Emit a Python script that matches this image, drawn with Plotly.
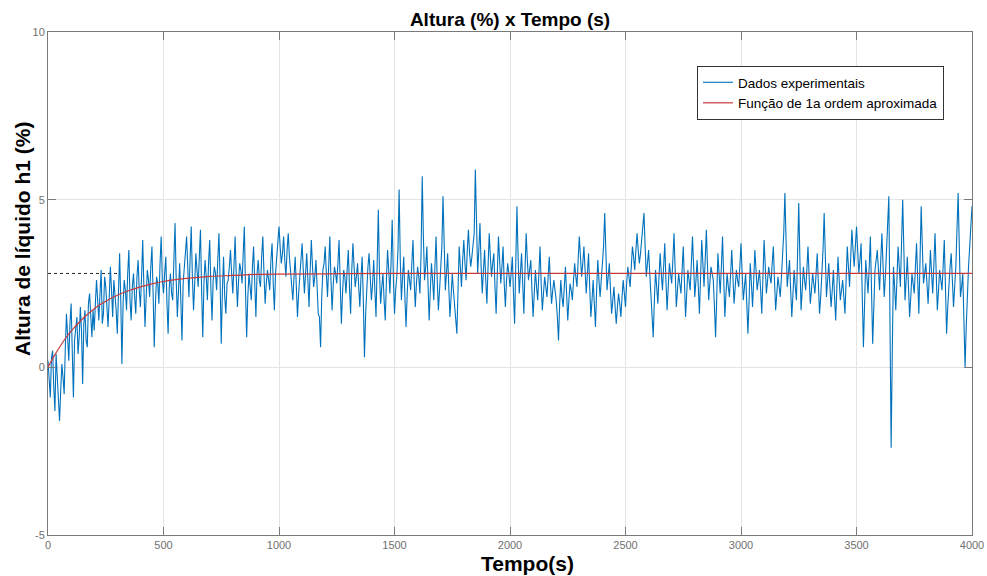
import plotly.graph_objects as go

t_step = 10
h_exp_main = [
    0.2, -0.9, 0.5, -1.3, -0.2, -1.6, 0.1, -0.8, 1.6, 0.2, 1.9, -0.9, 1.2, 0.4, 1.8, -0.5, 1.7, 0.6, 2.2, 0.9,
    1.1, 2.6, 1.4, 2.9, 1.6, 2.4, 1.2, 3.0, 1.5, 2.2, 1.0, 3.4, 0.1, 2.6, 1.7, 3.5, 1.4, 2.8, 1.6, 3.2,
    1.8, 3.8, 1.2, 2.9, 2.1, 3.6, 0.6, 2.7, 1.9, 3.9, 2.2, 3.3, 1.0, 2.8, 2.0, 4.3, 1.5, 3.1, 0.8, 2.9,
    3.9, 2.1, 4.2, 1.7, 3.4, 2.4, 4.1, 0.9, 3.2, 2.0, 3.8, 1.4, 3.0, 2.3, 4.0, 0.7, 3.3, 1.6, 2.6, 3.5,
    2.2, 3.9, 1.8, 3.1, 2.5, 4.2, 0.9, 2.8, 2.0, 3.6, 1.5, 3.2, 2.4, 3.9, 1.9, 2.9, 2.3, 3.7, 1.7, 3.3,
    4.2, 3.1, 3.9, 2.7, 4.0, 2.9, 2.0, 3.3, 1.5, 2.7, 3.7, 2.2, 3.4, 1.8, 3.8, 2.4, 3.2, 1.6, 0.6, 2.9,
    3.6, 2.1, 3.9, 1.7, 3.0, 2.5, 3.8, 1.3, 2.9, 2.2, 3.5, 1.6, 3.7, 2.4, 3.1, 1.8, 3.3, 0.3, 2.6, 3.4,
    2.0, 3.2, 1.5, 4.7, 1.9, 2.8, 1.4, 3.5, 2.2, 4.4, 1.6, 2.7, 5.3, 2.0, 3.3, 1.2, 2.9, 2.3, 3.8, 1.8,
    3.0, 2.2, 5.7, 2.6, 3.6, 1.4, 3.1, 2.0, 3.9, 1.7, 2.9, 5.1, 2.3, 3.4, 1.5, 2.8, 1.9, 1.0, 3.6, 2.4,
    3.8, 2.6, 4.1, 3.0, 3.7, 5.9, 2.8, 4.3, 2.2, 3.5, 1.9, 4.0, 2.7, 3.4, 1.6, 3.9, 2.5, 3.6, 1.8, 3.1,
    2.4, 3.3, 1.3, 4.8, 2.2, 3.4, 1.6, 4.0, 2.6, 3.2, 1.5, 2.9, 2.0, 3.6, 1.7, 2.7, 2.1, 3.3, 1.9, 2.6,
    2.0, 0.8, 2.6, 1.8, 3.0, 1.4, 2.5, 2.0, 3.1, 2.4, 3.9, 2.7, 3.6, 2.2, 3.4, 1.5, 2.6, 1.2, 3.2, 2.1,
    3.0, 4.6, 2.3, 3.1, 1.6, 2.4, 1.3, 2.2, 1.5, 2.6, 1.8, 3.0, 2.4, 3.6, 2.9, 4.0, 3.1, 3.8, 4.6, 2.7,
    3.5, 2.2, 0.9, 2.9, 1.9, 3.4, 2.3, 3.7, 1.7, 3.1, 2.5, 4.0, 1.8, 2.8, 2.2, 3.6, 1.5, 2.9, 2.3, 3.9,
    2.1, 3.2, 1.6, 3.8, 2.4, 4.1, 2.0, 3.0, 2.6, 0.9, 3.4, 2.2, 3.9, 1.5, 2.8, 2.1, 3.5, 1.9, 2.9, 2.4,
    3.7, 2.0, 2.8, 1.0, 3.1, 1.8, 3.5, 2.3, 2.9, 1.6, 3.8, 2.2, 3.0, 2.5, 3.6, 1.7, 2.7, 2.1, 3.3, 5.2,
    2.4, 3.2, 1.5, 2.9, 2.0, 4.9, 1.7, 3.0, 2.3, 3.6, 1.9, 2.8, 2.2, 3.4, 1.6, 2.7, 4.6, 2.1, 3.1, 1.8,
    2.9, 1.4, 3.3, 2.0, 2.6, 1.6, 3.6, 2.4, 4.1, 3.0, 4.2, 2.8, 3.7, 0.6, 3.2, 2.2, 3.9, 0.7, 2.9, 3.5,
    2.3, 4.0, 2.1, 3.4, 5.1, -2.4, 3.0, 1.7, 3.6, 2.4, 5.0, 2.0, 3.3, 1.5, 2.8, 2.2, 3.7, 1.6, 4.8, 2.5,
    3.1, 1.9, 3.5, 2.2, 4.0, 1.7, 2.9, 2.3, 3.8, 1.0, 2.6, 3.4, 1.8, 3.0, 5.2, 2.1, 2.8, 0.0, 2.3, 3.6,
    4.8,
]
# Values at the half steps t = 5, 15, 25, ... s
h_exp_half = [
    -0.5, 0.3, -0.6, 0.4, -1.1, -0.7, -0.3, 0.6, 0.9, 1.3, 0.5, 0.8, 1.5, 0.9, 1.1, 1.3, 0.8, 1.9, 1.4, 1.7,
    1.9, 2.0, 2.2, 1.3, 2.7, 1.8, 2.1, 2.3, 2.6, 1.7, 2.5, 2.0, 1.9, 2.3, 2.8, 2.0, 2.4, 2.1, 2.7, 2.3,
    2.7, 2.4, 2.1, 2.6, 3.0, 2.2, 1.9, 2.5, 3.1, 2.6, 2.8, 1.9, 2.4, 2.2, 3.2, 2.6, 2.3, 2.0, 2.5, 3.3,
    3.0, 3.2, 2.7, 2.5, 2.9, 3.3, 2.3, 2.5, 2.7, 3.1, 2.4, 2.6, 2.8, 3.2, 2.6, 2.3, 2.1, 2.5, 3.0, 2.8,
    3.0, 2.7, 2.6, 2.9, 3.4, 2.3, 2.1, 2.4, 3.0, 2.5, 2.8, 2.6, 3.3, 2.8, 2.5, 2.6, 3.2, 2.5, 2.8, 3.6,
    3.6, 3.4, 3.2, 3.5, 3.3, 2.4, 2.7, 2.4, 2.2, 3.1, 2.9, 2.8, 2.6, 2.9, 3.0, 2.7, 2.4, 1.5, 2.1, 3.1,
    2.8, 3.0, 2.6, 2.5, 2.8, 3.1, 2.5, 2.2, 2.7, 2.9, 2.4, 2.9, 3.0, 2.7, 2.4, 2.7, 2.0, 1.6, 3.0, 2.6,
    2.5, 2.3, 3.1, 2.8, 2.4, 2.0, 2.6, 2.9, 3.1, 2.7, 2.3, 3.5, 3.2, 2.7, 2.1, 2.2, 2.6, 3.1, 2.6, 2.5,
    2.7, 3.4, 3.9, 3.0, 2.5, 2.3, 2.6, 3.0, 2.6, 2.3, 3.6, 3.4, 2.8, 2.4, 2.1, 2.3, 1.6, 2.3, 3.0, 3.2,
    3.1, 3.5, 3.4, 3.3, 4.0, 3.7, 3.5, 3.0, 2.9, 2.6, 3.0, 3.3, 3.1, 2.4, 2.8, 3.2, 3.0, 2.5, 2.6, 2.8,
    2.8, 2.2, 3.1, 3.3, 2.8, 2.5, 2.9, 3.2, 2.9, 2.3, 2.2, 2.4, 2.8, 2.5, 2.2, 2.4, 2.7, 2.5, 2.3, 2.3,
    1.5, 1.9, 2.1, 2.4, 2.2, 2.0, 2.3, 2.6, 2.7, 3.2, 3.3, 3.1, 2.9, 2.8, 2.4, 2.0, 1.9, 2.3, 2.6, 2.6,
    3.6, 3.3, 2.7, 2.3, 2.0, 1.8, 1.8, 1.9, 2.1, 2.2, 2.5, 2.7, 3.0, 3.3, 3.5, 3.5, 3.4, 4.1, 3.6, 3.1,
    2.8, 1.6, 2.0, 2.4, 2.7, 2.8, 3.0, 2.6, 2.4, 2.8, 3.2, 2.9, 2.3, 2.5, 2.9, 2.6, 2.2, 2.6, 3.1, 3.0,
    2.6, 2.4, 2.7, 3.1, 3.2, 3.0, 2.5, 2.8, 1.8, 2.1, 2.8, 3.0, 2.7, 2.2, 2.4, 2.8, 2.7, 2.4, 2.6, 3.0,
    2.8, 2.4, 1.9, 2.0, 2.5, 2.6, 2.9, 2.6, 2.3, 2.7, 3.0, 2.6, 2.7, 3.1, 2.6, 2.2, 2.4, 2.7, 4.0, 3.8,
    2.8, 2.3, 2.2, 2.4, 3.4, 3.2, 2.3, 2.6, 2.9, 2.7, 2.3, 2.5, 2.8, 2.5, 2.1, 3.5, 3.3, 2.6, 2.4, 2.3,
    2.1, 2.4, 2.6, 2.3, 2.1, 2.6, 3.0, 3.3, 3.5, 3.6, 3.5, 3.2, 2.1, 1.9, 2.7, 3.0, 2.3, 1.8, 3.2, 2.9,
    3.2, 3.0, 2.7, 4.2, 1.3, 0.5, 2.4, 2.6, 3.0, 3.7, 3.5, 2.6, 2.4, 2.1, 2.5, 3.0, 2.6, 3.2, 3.6, 2.8,
    2.5, 2.7, 2.8, 3.1, 2.8, 2.3, 2.6, 3.0, 2.4, 1.8, 3.0, 2.6, 2.4, 4.1, 3.6, 2.4, 1.4, 1.2, 3.0, 4.2,
]

t_exp, h_exp = [], []
for i, v in enumerate(h_exp_main):
    t_exp.append(i * t_step)
    h_exp.append(v)
    if i < len(h_exp_half):
        t_exp.append(i * t_step + t_step / 2)
        h_exp.append(h_exp_half[i])

# Approximated first-order response
t_fit = [0, 25, 50, 75, 100, 150, 200, 250, 300, 350, 400, 450, 500, 600, 700, 800, 900, 1000, 1200, 1500, 4000]
h_fit = [0.0, 0.32, 0.60, 0.86, 1.08, 1.45, 1.75, 1.97, 2.15, 2.29, 2.40, 2.49, 2.56, 2.65, 2.71, 2.74, 2.77, 2.78, 2.79, 2.80, 2.80]

# Steady-state reference (dotted)
ss_t = [0, 300]
ss_h = [2.8, 2.8]

x_ticks = [0, 500, 1000, 1500, 2000, 2500, 3000, 3500, 4000]
y_ticks = [-5, 0, 5, 10]

fig = go.Figure()
fig.add_trace(go.Scatter(x=ss_t, y=ss_h, mode="lines", showlegend=False,
                         line=dict(color="#222222", width=1, dash="dot"), hoverinfo="skip"))
fig.add_trace(go.Scatter(x=t_exp, y=h_exp, mode="lines", name="Dados experimentais",
                         line=dict(color="#0072BD", width=1.1)))
fig.add_trace(go.Scatter(x=t_fit, y=h_fit, mode="lines", name="Função de 1a ordem aproximada",
                         line=dict(color="#C83A3A", width=1.2, shape="spline")))

axis_common = dict(showline=True, linecolor="#7a7a7a", linewidth=1, mirror="ticks",
                   ticks="inside", ticklen=8, tickcolor="#7a7a7a", showgrid=True,
                   gridcolor="#e4e4e4", gridwidth=1, zeroline=False, automargin=False,
                   tickfont=dict(family="Liberation Sans, Arial", size=11, color="#707070"))

fig.update_layout(
    width=987, height=576,
    margin=dict(l=48, r=15, t=32, b=41),
    paper_bgcolor="white", plot_bgcolor="white",
    title=dict(text="<b>Altura (%) x Tempo (s)</b>", x=510 / 987, xanchor="center",
               y=1 - 19 / 576, yanchor="middle",
               font=dict(family="Liberation Sans, Arial", size=19, color="black")),
    xaxis=dict(range=[0, 4000], tickvals=x_ticks, ticktext=[str(v) for v in x_ticks], **axis_common),
    yaxis=dict(range=[-5, 10], tickvals=y_ticks, ticktext=[str(v) for v in y_ticks], **axis_common),
    legend=dict(x=(697 - 48) / 924, y=(535 - 66) / 503, xanchor="left", yanchor="top",
                bgcolor="white", bordercolor="#333333", borderwidth=1,
                font=dict(family="Liberation Sans, Arial", size=13.5, color="black"),
                itemwidth=30, tracegroupgap=0),
    showlegend=True,
    annotations=[
        dict(text="<b>Tempo(s)</b>", xref="paper", yref="paper",
             x=(527 - 48) / 924, y=-(563 - 535) / 503, xanchor="center", yanchor="middle",
             showarrow=False, font=dict(family="Liberation Sans, Arial", size=21, color="black")),
        dict(text="<b>Altura de líquido h1 (%)</b>", xref="paper", yref="paper", textangle=-90,
             x=-(48 - 22) / 924, y=(535 - 239) / 503, xanchor="center", yanchor="middle",
             showarrow=False, font=dict(family="Liberation Sans, Arial", size=21, color="black")),
    ],
)

fig.write_html("out.html")
